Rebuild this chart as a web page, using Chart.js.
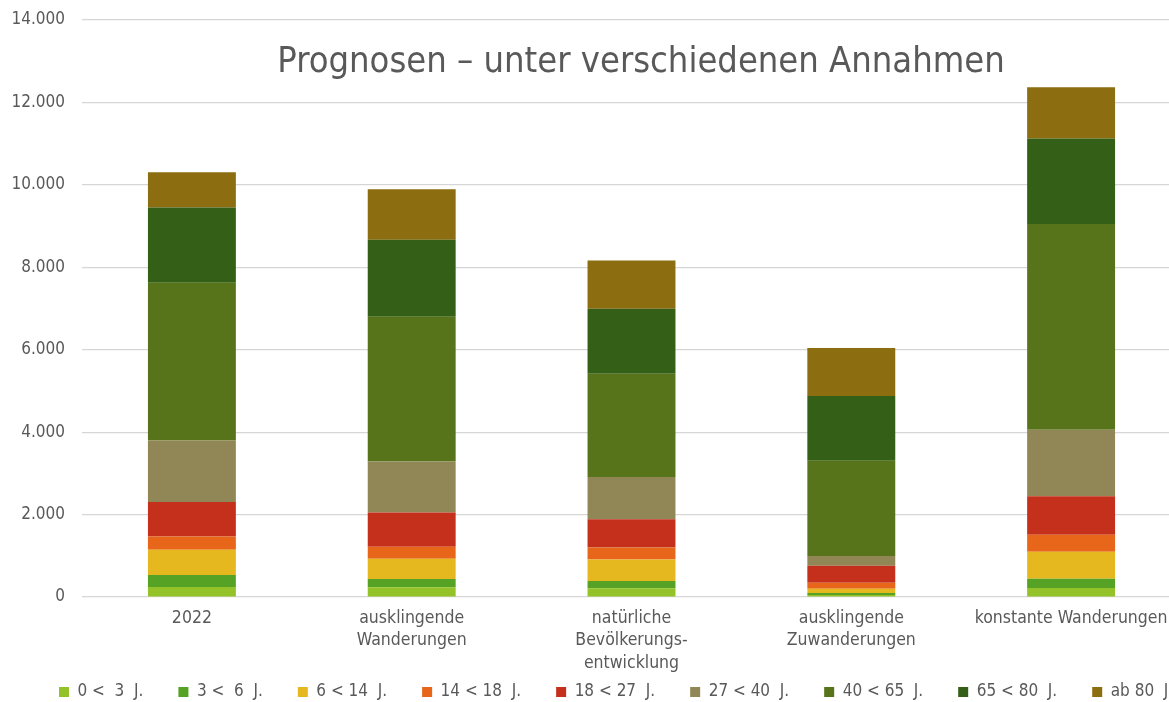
<!DOCTYPE html>
<html><head><meta charset="utf-8">
<script src="https://cdn.jsdelivr.net/npm/chart.js@4/dist/chart.umd.min.js"></script>
<style>
html,body{margin:0;padding:0;overflow:hidden;background:#fff;width:1169px;height:702px}
#wrap{position:absolute;left:0;top:0;width:1260px;height:739px}
</style></head><body>
<div id="wrap"><canvas id="c"></canvas></div>
<script>
const chartTitle = "Prognosen – unter verschiedenen Annahmen";
const categories = ["2022", ["ausklingende","Wanderungen"], ["natürliche","Bevölkerungs-","entwicklung"], ["ausklingende","Zuwanderungen"], "konstante Wanderungen"];
const seriesNames = ["0 <  3  J.", "3 <  6  J.", "6 < 14  J.", "14 < 18  J.", "18 < 27  J.", "27 < 40  J.", "40 < 65  J.", "65 < 80  J.", "ab 80  J."];
const age0to3   = [242, 234, 210, 49, 221];
const age3to6   = [291, 203, 177, 48, 222];
const age6to14  = [614, 493, 525, 105, 656];
const age14to18 = [323, 291, 291, 146, 410];
const age18to27 = [832, 832, 686, 412, 935];
const age27to40 = [1495, 1237, 1025, 235, 1616];
const age40to65 = [3829, 3509, 2503, 2313, 4988];
const age65to80 = [1825, 1867, 1574, 1568, 2075];
const age80plus = [856, 1229, 1171, 1165, 1247];
const yTicks = [0, 2000, 4000, 6000, 8000, 10000, 12000, 14000];

const seriesValues = [age0to3, age3to6, age6to14, age14to18, age18to27, age27to40, age40to65, age65to80, age80plus];
const colors = ["#93C229", "#55A224", "#E5B820", "#E8661A", "#C4301C", "#918756", "#58741B", "#335F17", "#8C6D0F"];

const FONT = '"DejaVu Sans Condensed", "DejaVu Sans", sans-serif';
const TXT = "#595959";
const W = 1260, PLOT_LEFT = 82, PLOT_RIGHT = 1181;
const LEGEND_SHIFT_X = 24, LEGEND_SHIFT_Y = -28.5;

const titlePlugin = {
  id: 'titleInside',
  afterLayout(chart) {
    const lg = chart.legend;
    if (lg) {
      lg.left += LEGEND_SHIFT_X; lg.right += LEGEND_SHIFT_X;
      lg.top += LEGEND_SHIFT_Y; lg.bottom += LEGEND_SHIFT_Y;
    }
  },
  afterDraw(chart) {
    const ctx = chart.ctx;
    ctx.save();
    ctx.font = '36px ' + FONT;
    ctx.fillStyle = TXT;
    ctx.textAlign = 'center';
    ctx.textBaseline = 'alphabetic';
    ctx.fillText(chartTitle, 641, 72);
    ctx.restore();
  }
};

new Chart(document.getElementById('c'), {
  type: 'bar',
  data: {
    labels: categories,
    datasets: seriesNames.map((n, i) => ({
      label: n,
      data: seriesValues[i],
      backgroundColor: colors[i],
      borderWidth: 0,
      categoryPercentage: 1.0,
      barPercentage: 0.4
    }))
  },
  options: {
    responsive: true,
    maintainAspectRatio: false,
    animation: false,
    layout: { padding: { left: 0, right: 0, top: 20, bottom: 0 } },
    plugins: {
      tooltip: { enabled: false },
      title: { display: false },
      legend: {
        position: 'bottom',
        align: 'start',
        labels: {
          color: TXT,
          font: { family: FONT, size: 17 },
          boxWidth: 10, boxHeight: 10,
          padding: 35
        }
      }
    },
    scales: {
      x: {
        stacked: true,
        grid: { display: false, drawTicks: false },
        border: { display: false },
        ticks: {
          color: TXT, font: { family: FONT, size: 17.5, lineHeight: 1.28 },
          padding: 10, maxRotation: 0, autoSkip: false
        },
        afterFit(s) { s.height = 80; }
      },
      y: {
        stacked: true,
        min: 0, max: 14000,
        afterBuildTicks(s) { s.ticks = yTicks.map(v => ({ value: v })); },
        grid: { color: "#d6d6d6", lineWidth: 1.2, drawTicks: false },
        border: { display: false },
        ticks: {
          color: TXT, font: { family: FONT, size: 17 }, padding: 17,
          callback: v => String(v).replace(/\B(?=(\d{3})+(?!\d))/g, '.')
        },
        afterFit(s) { s.width = PLOT_LEFT; s.paddingTop = 0; s.paddingBottom = 0; }
      },
      yRight: {
        position: 'right', display: true,
        grid: { display: false, drawTicks: false },
        border: { display: false },
        ticks: { display: false },
        afterFit(s) { s.width = W - PLOT_RIGHT; s.paddingTop = 0; s.paddingBottom = 0; }
      }
    }
  },
  plugins: [titlePlugin]
});
</script>
</body></html>
